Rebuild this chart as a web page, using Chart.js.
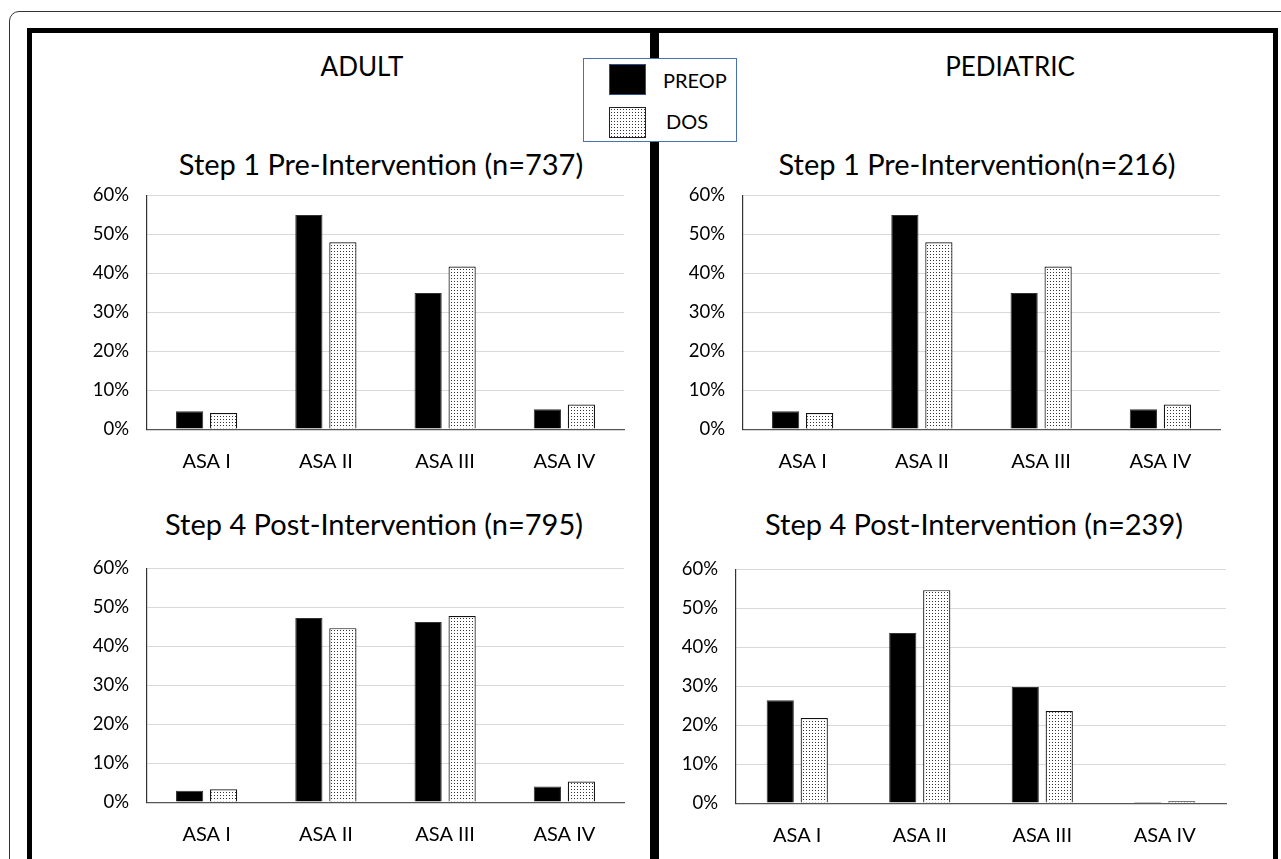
<!DOCTYPE html>
<html>
<head>
<meta charset="utf-8">
<script src="https://cdn.jsdelivr.net/npm/chart.js@4.4.1/dist/chart.umd.min.js"></script>
<style>
  html, body { margin:0; padding:0; background:#fff; }
  body { width:1281px; height:859px; position:relative; overflow:hidden; font-family: Lato, "Open Sans", sans-serif; color:#000; }
  .abs { position:absolute; }
  .outer { left:9px; top:11px; width:1300px; height:900px; border:1px solid #333; border-radius:10px; box-sizing:border-box; }
  .panel { border:5px solid #000; box-sizing:border-box; top:28px; height:900px; }
  .ttl { width:600px; text-align:center; white-space:nowrap; }
  canvas { position:absolute; }
  .legend { left:583px; top:58px; width:154px; height:84px; border:1.5px solid #4a72b0; background:#fff; box-sizing:border-box; }
  .sw { width:37px; height:31px; box-sizing:border-box; }
</style>
</head>
<body>
<div class="abs outer"></div>
<div class="abs panel" style="left:27px; width:628px;"></div>
<div class="abs panel" style="left:654px; width:624px;"></div>

<div id="titles"></div>

<canvas id="cA"></canvas>
<canvas id="cB"></canvas>
<canvas id="cC"></canvas>
<canvas id="cD"></canvas>

<div class="abs legend"></div>
<div class="abs sw" style="left:609px; top:64px; background:#000; border:1.5px solid #2f528f;"></div>
<div class="abs sw" id="dosSw" style="left:609px; top:107px; border:1.5px solid #222;"></div>
<div class="abs" id="lgPre" style="left:663px; top:68px; font-size:20px; line-height:24px;"></div>
<div class="abs" id="lgDos" style="left:666px; top:109px; font-size:20px; line-height:24px;"></div>

<script>
// ---- data ----
const categories = ['ASA I', 'ASA II', 'ASA III', 'ASA IV'];
const seriesNames = ['PREOP', 'DOS'];
const yTickValues = [0, 10, 20, 30, 40, 50, 60];

const adultStep1Preop = [4.6, 54.9, 34.9, 5.1];
const adultStep1Dos   = [4.1, 47.9, 41.7, 6.3];
const pedStep1Preop   = [4.6, 54.9, 34.9, 5.1];
const pedStep1Dos     = [4.1, 47.9, 41.7, 6.3];
const adultStep4Preop = [2.9, 47.2, 46.2, 4.0];
const adultStep4Dos   = [3.3, 44.6, 47.7, 5.3];
const pedStep4Preop   = [26.4, 43.6, 29.8, 0.3];
const pedStep4Dos     = [21.8, 54.6, 23.6, 0.5];

const panelTitles = ['ADULT', 'PEDIATRIC'];
const chartTitles = [
  'Step 1 Pre-Intervention (n=737)',
  'Step 1 Pre-Intervention(n=216)',
  'Step 4 Post-Intervention (n=795)',
  'Step 4 Post-Intervention (n=239)'
];

// ---- pattern ----
function makeTile() {
  const t = document.createElement('canvas');
  t.width = 3; t.height = 3;
  const c = t.getContext('2d');
  c.fillStyle = '#fff'; c.fillRect(0, 0, 3, 3);
  c.fillStyle = '#333'; c.fillRect(1, 1, 1, 1);
  return t;
}
const tile = makeTile();
document.getElementById('dosSw').style.backgroundImage = 'url(' + tile.toDataURL() + ')';
document.getElementById('lgPre').textContent = seriesNames[0];
document.getElementById('lgDos').textContent = seriesNames[1];

// ---- titles ----
const titlesDiv = document.getElementById('titles');
function addTitle(text, cx, cy, size) {
  const d = document.createElement('div');
  d.className = 'abs ttl';
  d.textContent = text;
  const h = size * 1.2;
  d.style.left = (cx - 300) + 'px';
  d.style.top = (cy - h / 2) + 'px';
  d.style.fontSize = size + 'px';
  d.style.lineHeight = h + 'px';
  titlesDiv.appendChild(d);
}
addTitle(panelTitles[0], 362, 67, 26);
addTitle(panelTitles[1], 1010, 67, 26);
addTitle(chartTitles[0], 381, 164, 29);
addTitle(chartTitles[1], 977, 164, 29);
addTitle(chartTitles[2], 374, 524, 29);
addTitle(chartTitles[3], 974, 524, 29);

// ---- charts ----
function build(id, L, R, T, B, preop, dos) {
  const cv = document.getElementById(id);
  const yW = 87, padTop = 20, padRight = 12, xH = 55;
  let left = L - yW, top = T - padTop;
  const w = (R + padRight) - left;
  let h = (B + xH) - top;
  cv.width = w; cv.height = h;
  cv.style.left = left + 'px'; cv.style.top = top + 'px';
  cv.style.width = w + 'px'; cv.style.height = h + 'px';
  const ctx = cv.getContext('2d');
  const pattern = ctx.createPattern(tile, 'repeat');
  const catW = (R - L) / categories.length;
  const catPct = 68 / catW;
  const chart = new Chart(ctx, {
    type: 'bar',
    data: {
      labels: categories,
      datasets: [
        { label: seriesNames[0], data: preop, backgroundColor: '#000', borderColor: '#333', borderWidth: 1,
          categoryPercentage: catPct, barPercentage: 0.8 },
        { label: seriesNames[1], data: dos, backgroundColor: pattern, borderColor: '#111', borderWidth: 1.2,
          categoryPercentage: catPct, barPercentage: 0.8 }
      ]
    },
    options: {
      responsive: false,
      maintainAspectRatio: false,
      animation: false,
      devicePixelRatio: 1,
      layout: { padding: { top: padTop, right: padRight, left: 0, bottom: 0 } },
      plugins: { legend: { display: false }, title: { display: false }, tooltip: { enabled: false } },
      scales: {
        x: {
          grid: { display: false, drawTicks: false },
          border: { display: true, color: '#555', width: 1.2 },
          ticks: { color: '#000', padding: 20, font: { family: 'Lato', size: 20 } },
          afterFit: s => { s.height = xH; }
        },
        y: {
          min: 0, max: 60,
          afterBuildTicks: s => { s.ticks = yTickValues.map(v => ({ value: v })); },
          grid: { color: '#d9d9d9', lineWidth: 1, drawTicks: false },
          border: { display: true, color: '#333', width: 1.2 },
          ticks: { color: '#000', padding: 18, font: { family: 'Lato', size: 18.5 }, callback: v => v + '%' },
          afterFit: s => { s.width = yW; }
        }
      }
    }
  });
  // correct so that the plot area lands exactly at [T, B]
  const ca = chart.chartArea;
  const dTop = ca.top - padTop;
  const dBot = (h - ca.bottom) - xH;
  if (dTop !== 0 || dBot !== 0) {
    top = top - dTop;
    h = h + dTop + dBot;
    cv.style.top = top + 'px';
    chart.resize(w, h);
  }
}

build('cA', 147, 624, 195, 429, adultStep1Preop, adultStep1Dos);
build('cB', 743, 1220, 195, 429, pedStep1Preop, pedStep1Dos);
build('cC', 147, 624, 568, 802, adultStep4Preop, adultStep4Dos);
build('cD', 736, 1226, 569, 803, pedStep4Preop, pedStep4Dos);
</script>
</body>
</html>
